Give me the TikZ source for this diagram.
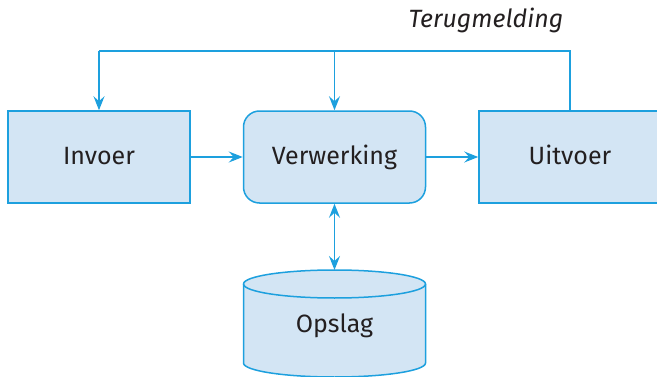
\documentclass[tikz,border=0pt]{standalone}
\usepackage{fontspec}
\setmainfont{Fira Sans}
\usetikzlibrary{arrows.meta}
\definecolor{lijnblauw}{HTML}{1DA0DE}
\definecolor{vulblauw}{HTML}{D3E5F4}
\definecolor{tekst}{HTML}{231F20}
\tikzset{%
  blok/.style = {
    draw = lijnblauw, fill = vulblauw, line width = 1.5pt,
    minimum width = 182pt, minimum height = 92pt,
    text height = 18pt, text depth = 4pt,
    text = tekst, font = \fontsize{25}{30}\selectfont,
  },
  lijn/.style = {
    draw = lijnblauw, line width = 1.5pt,
  },
  pijl/.style = {
    lijn, -{Stealth[length=14pt,width=11pt,inset=5pt]},
  },
  dubbelpijl/.style = {
    lijn, {Stealth[length=14pt,width=11pt,inset=5pt]}-{Stealth[length=14pt,width=11pt,inset=5pt]},
  }
}
\begin{document}
\begin{tikzpicture}[x=1pt,y=1pt]
\useasboundingbox (0,0) rectangle (657,376);
 \node[blok] (invoer) at (99,219) {Invoer};
 \node[blok,rounded corners=16pt] (verwerking) at (334.5,219) {Verwerking};
 \node[blok] (uitvoer) at (570,219) {Uitvoer};
\filldraw[lijn,fill=vulblauw] (243.5,92) -- (243.5,13)
  arc[start angle=180,end angle=360,x radius=91,y radius=14] -- (425.5,92)
  arc[start angle=0,end angle=180,x radius=91,y radius=14] -- cycle;
\draw[lijn] (243.5,92) arc[start angle=180,end angle=360,x radius=91,y radius=14];
 \node[text=tekst,font=\fontsize{25}{30}\selectfont] (opslag) at (334.5,50) {Opslag};
 \coordinate (schijf) at (334.5,106);
 \coordinate (boven) at (0,325);
 \node[text=tekst,font=\fontsize{25}{30}\selectfont\itshape] (terug) at (486,356) {Terugmelding};
\draw[pijl] (invoer) -- (verwerking);
\draw[pijl] (verwerking) -- (uitvoer);
\draw[dubbelpijl] (verwerking.south) -- (schijf);
\draw[lijn] (uitvoer.north) |- (boven -| invoer.north);
\draw[pijl] (boven -| invoer.north) -- (invoer.north);
\draw[pijl] (boven -| verwerking.north) -- (verwerking.north);
\end{tikzpicture}
\end{document}
